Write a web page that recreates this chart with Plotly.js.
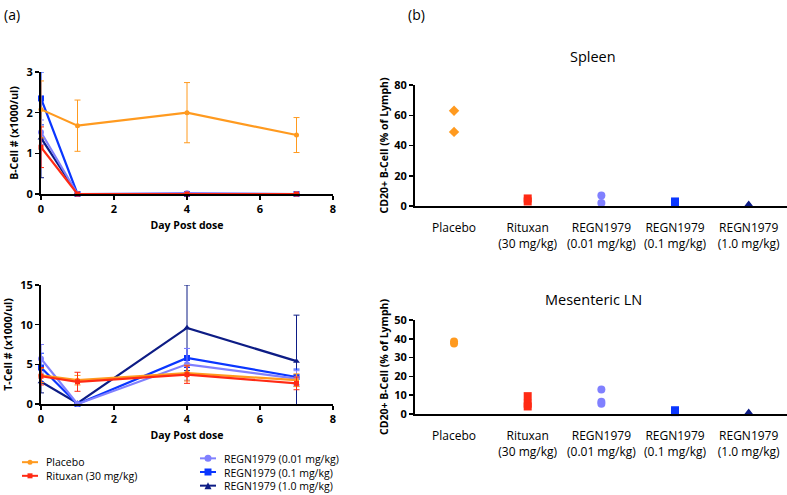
<!DOCTYPE html>
<html>
<head>
<meta charset="utf-8">
<script src="https://cdn.plot.ly/plotly-3.0.1.min.js"></script>
<style>
  html, body { margin: 0; padding: 0; background: #fff; }
  #chart { width: 787px; height: 495px; }
</style>
</head>
<body>
<div id="chart"></div>
<script>
// ---- data ----
const days = [0, 1, 4, 7];
const groupNames = ['Placebo', 'Rituxan (30 mg/kg)', 'REGN1979 (0.01 mg/kg)', 'REGN1979 (0.1 mg/kg)', 'REGN1979 (1.0 mg/kg)'];
const groupColors = ['#ff9a1f', '#ff2a14', '#8080ff', '#0a36ff', '#0d1c85'];
const lineSymbols = ['circle', 'square', 'circle', 'square', 'triangle-up'];

// B-cell counts (x1000/ul), mean and error
const bPlacebo = [2.08, 1.68, 2.0, 1.45];
const bPlaceboErr = [0.7, 0.63, 0.74, 0.43];
const bRituxan = [1.15, 0.0, 0.0, 0.0];
const bRituxanErr = [0.5, 0.0, 0.0, 0.0];
const bRegn001 = [1.52, 0.0, 0.02, 0.0];
const bRegn001Err = [0.3, 0.0, 0.0, 0.0];
const bRegn01 = [2.35, 0.0, 0.0, 0.0];
const bRegn01Err = [0.65, 0.0, 0.0, 0.0];
const bRegn10 = [1.38, 0.0, 0.0, 0.0];
const bRegn10Err = [0.98, 0.0, 0.0, 0.0];

// T-cell counts (x1000/ul), mean and error
const tPlacebo = [3.6, 3.0, 3.9, 3.0];
const tPlaceboErr = [0.9, 0.6, 1.0, 0.8];
const tRituxan = [3.5, 2.8, 3.7, 2.6];
const tRituxanErr = [1.1, 1.2, 1.1, 0.8];
const tRegn001 = [5.7, 0.0, 5.0, 3.2];
const tRegn001Err = [1.8, 0.0, 2.0, 1.0];
const tRegn01 = [4.6, 0.0, 5.8, 3.4];
const tRegn01Err = [1.8, 0.0, 1.2, 1.0];
const tRegn10 = [2.8, 0.1, 9.6, 5.4];
const tRegn10Err = [1.4, 0.0, 5.4, 5.8];

// CD20+ B-cells (% of lymph), individual animals
const catLabels = ['Placebo', 'Rituxan<br>(30 mg/kg)', 'REGN1979<br>(0.01 mg/kg)', 'REGN1979<br>(0.1 mg/kg)', 'REGN1979<br>(1.0 mg/kg)'];
const spleenPlacebo = [63, 49];
const spleenRituxan = [5, 3];
const spleenRegn001 = [7, 2];
const spleenRegn01 = [3, 2];
const spleenRegn10 = [1, 0.5];
const mlnPlacebo = [38.5, 37.5];
const mlnRituxan = [9.5, 5.5, 4];
const mlnRegn001 = [13, 6.5, 5.5];
const mlnRegn01 = [2, 1];
const mlnRegn10 = [0.8, 0.3];
const scatterSymbols = ['diamond', 'square', 'circle', 'square', 'triangle-up'];
const mlnSymbols = ['circle', 'square', 'circle', 'square', 'triangle-up'];

const W = 787, H = 495;
const FONT = 'Open Sans, Lato, sans-serif';

// convert pixel box to domain
function dx(a, b) { return [a / W, b / W]; }
function dy(top, bottom) { return [1 - bottom / H, 1 - top / H]; }
function px(x) { return x / W; }
function py(y) { return 1 - y / H; }

const traces = [];

function addLines(means, errs, xa, ya) {
    // draw order: navy, blue, light blue, placebo, rituxan
    const order = [4, 3, 2, 0, 1];
    order.forEach(i => {
        traces.push({
            x: days,
            y: means[i],
            xaxis: xa, yaxis: ya,
            type: 'scatter',
            mode: 'lines+markers',
            name: groupNames[i],
            line: { color: groupColors[i], width: 2.2 },
            marker: { color: groupColors[i], symbol: lineSymbols[i], size: i >= 2 ? 6 : 5 },
            error_y: { type: 'data', array: errs[i], color: groupColors[i], thickness: 1, width: 3 },
            cliponaxis: false
        });
    });
}

addLines([bPlacebo, bRituxan, bRegn001, bRegn01, bRegn10],
         [bPlaceboErr, bRituxanErr, bRegn001Err, bRegn01Err, bRegn10Err], 'x', 'y');
addLines([tPlacebo, tRituxan, tRegn001, tRegn01, tRegn10],
         [tPlaceboErr, tRituxanErr, tRegn001Err, tRegn01Err, tRegn10Err], 'x2', 'y2');

function addDots(groups, symbols, xa, ya) {
    groups.forEach((vals, i) => {
        traces.push({
            x: vals.map(() => i),
            y: vals,
            xaxis: xa, yaxis: ya,
            type: 'scatter',
            mode: 'markers',
            marker: { color: groupColors[i], symbol: symbols[i], size: 8 },
            cliponaxis: false
        });
    });
}

addDots([spleenPlacebo, spleenRituxan, spleenRegn001, spleenRegn01, spleenRegn10], scatterSymbols, 'x3', 'y3');
addDots([mlnPlacebo, mlnRituxan, mlnRegn001, mlnRegn01, mlnRegn10], mlnSymbols, 'x4', 'y4');

const lineAxis = {
    showline: true, linecolor: '#000', linewidth: 2,
    ticks: 'outside', ticklen: 4, tickwidth: 1.5, tickcolor: '#000',
    showgrid: false, zeroline: false,
    tickfont: { family: FONT, size: 11, color: '#000', weight: 'bold' }
};
const axTitleFont = { family: FONT, size: 10.5, color: '#000', weight: 'bold' };

const dayAxis = () => ({
    ...lineAxis,
    domain: dx(41, 333),
    range: [0, 8],
    tickvals: [0, 2, 4, 6, 8],
    title: { text: 'Day Post dose', font: axTitleFont, standoff: 6 }
});

const catAxis = {
    ...lineAxis,
    domain: dx(415, 787),
    range: [-0.53, 4.52],
    tickvals: [0, 1, 2, 3, 4],
    ticktext: catLabels,
    ticklen: 10,
    tickcolor: 'rgba(0,0,0,0)',
    tickfont: { family: FONT, size: 12, color: '#000' }
};

// legend drawn as paper-space keys + one multi-line text per column
const legendFont = 10.5;
const legendCols = [
    { keyX: 22, textX: 44, rows: [0, 1], midY: 469 },
    { keyX: 200, textX: 222, rows: [2, 3, 4], midY: 472 }
];
const shapes = [];
const annotations = [];
legendCols.forEach(col => {
    const step = legendFont * 1.3;
    const y0 = col.midY - step * (col.rows.length - 1) / 2;
    col.rows.forEach((g, k) => {
        const y = y0 + k * step;
        const c = groupColors[g];
        shapes.push({ type: 'line', xref: 'paper', yref: 'paper', x0: px(col.keyX), x1: px(col.keyX + 16), y0: py(y), y1: py(y), line: { color: c, width: 2 } });
        const cx = col.keyX + 8, r = g >= 2 ? 3.5 : 2.5;
        const sym = lineSymbols[g];
        if (sym === 'circle') {
            shapes.push({ type: 'circle', xref: 'paper', yref: 'paper', x0: px(cx - r), x1: px(cx + r), y0: py(y + r), y1: py(y - r), fillcolor: c, line: { width: 0 } });
        } else if (sym === 'square') {
            shapes.push({ type: 'rect', xref: 'paper', yref: 'paper', x0: px(cx - r), x1: px(cx + r), y0: py(y + r), y1: py(y - r), fillcolor: c, line: { width: 0 } });
        } else {
            shapes.push({ type: 'path', xref: 'paper', yref: 'paper', path: `M ${px(cx - r)} ${py(y + r)} L ${px(cx + r)} ${py(y + r)} L ${px(cx)} ${py(y - r)} Z`, fillcolor: c, line: { width: 0 } });
        }
    });
    annotations.push({
        text: col.rows.map(g => groupNames[g]).join('<br>'),
        x: px(col.textX), y: py(col.midY), xref: 'paper', yref: 'paper',
        xanchor: 'left', yanchor: 'middle', align: 'left', showarrow: false,
        font: { family: FONT, size: legendFont, color: '#000' }
    });
});

annotations.push(
    { text: '(a)', x: px(2), y: py(3), xref: 'paper', yref: 'paper', xanchor: 'left', yanchor: 'top', showarrow: false, font: { family: FONT, size: 14 } },
    { text: '(b)', x: px(406), y: py(3), xref: 'paper', yref: 'paper', xanchor: 'left', yanchor: 'top', showarrow: false, font: { family: FONT, size: 14 } },
    { text: 'Spleen', x: px(593), y: py(57), xref: 'paper', yref: 'paper', xanchor: 'center', yanchor: 'middle', showarrow: false, font: { family: FONT, size: 14.5 } },
    { text: 'Mesenteric LN', x: px(593), y: py(299), xref: 'paper', yref: 'paper', xanchor: 'center', yanchor: 'middle', showarrow: false, font: { family: FONT, size: 14.5 } }
);

const layout = {
    width: W, height: H,
    margin: { l: 0, r: 0, t: 0, b: 0 },
    showlegend: false,
    paper_bgcolor: '#fff', plot_bgcolor: '#fff',
    font: { family: FONT, color: '#000' },
    xaxis: { ...dayAxis(), anchor: 'y' },
    yaxis: {
        ...lineAxis, anchor: 'x', domain: dy(72, 194), range: [0, 3], tickvals: [0, 1, 2, 3],
        title: { text: 'B-Cell # (x1000/ul)', font: axTitleFont, standoff: 6 }
    },
    xaxis2: { ...dayAxis(), anchor: 'y2' },
    yaxis2: {
        ...lineAxis, anchor: 'x2', domain: dy(285, 404), range: [0, 15], tickvals: [0, 5, 10, 15],
        title: { text: 'T-Cell # (x1000/ul)', font: axTitleFont, standoff: 6 }
    },
    xaxis3: { ...catAxis, anchor: 'y3' },
    yaxis3: {
        ...lineAxis, anchor: 'x3', domain: dy(85, 206), range: [0, 80], tickvals: [0, 20, 40, 60, 80],
        title: { text: 'CD20+ B-Cell (% of Lymph)', font: axTitleFont, standoff: 4 }
    },
    xaxis4: { ...catAxis, anchor: 'y4' },
    yaxis4: {
        ...lineAxis, anchor: 'x4', domain: dy(320, 414), range: [0, 50], tickvals: [0, 10, 20, 30, 40, 50],
        title: { text: 'CD20+ B-Cell (% of Lymph)', font: axTitleFont, standoff: 4 }
    },
    shapes: shapes,
    annotations: annotations
};

Plotly.newPlot('chart', traces, layout, { staticPlot: true, displayModeBar: false });
</script>
</body>
</html>
